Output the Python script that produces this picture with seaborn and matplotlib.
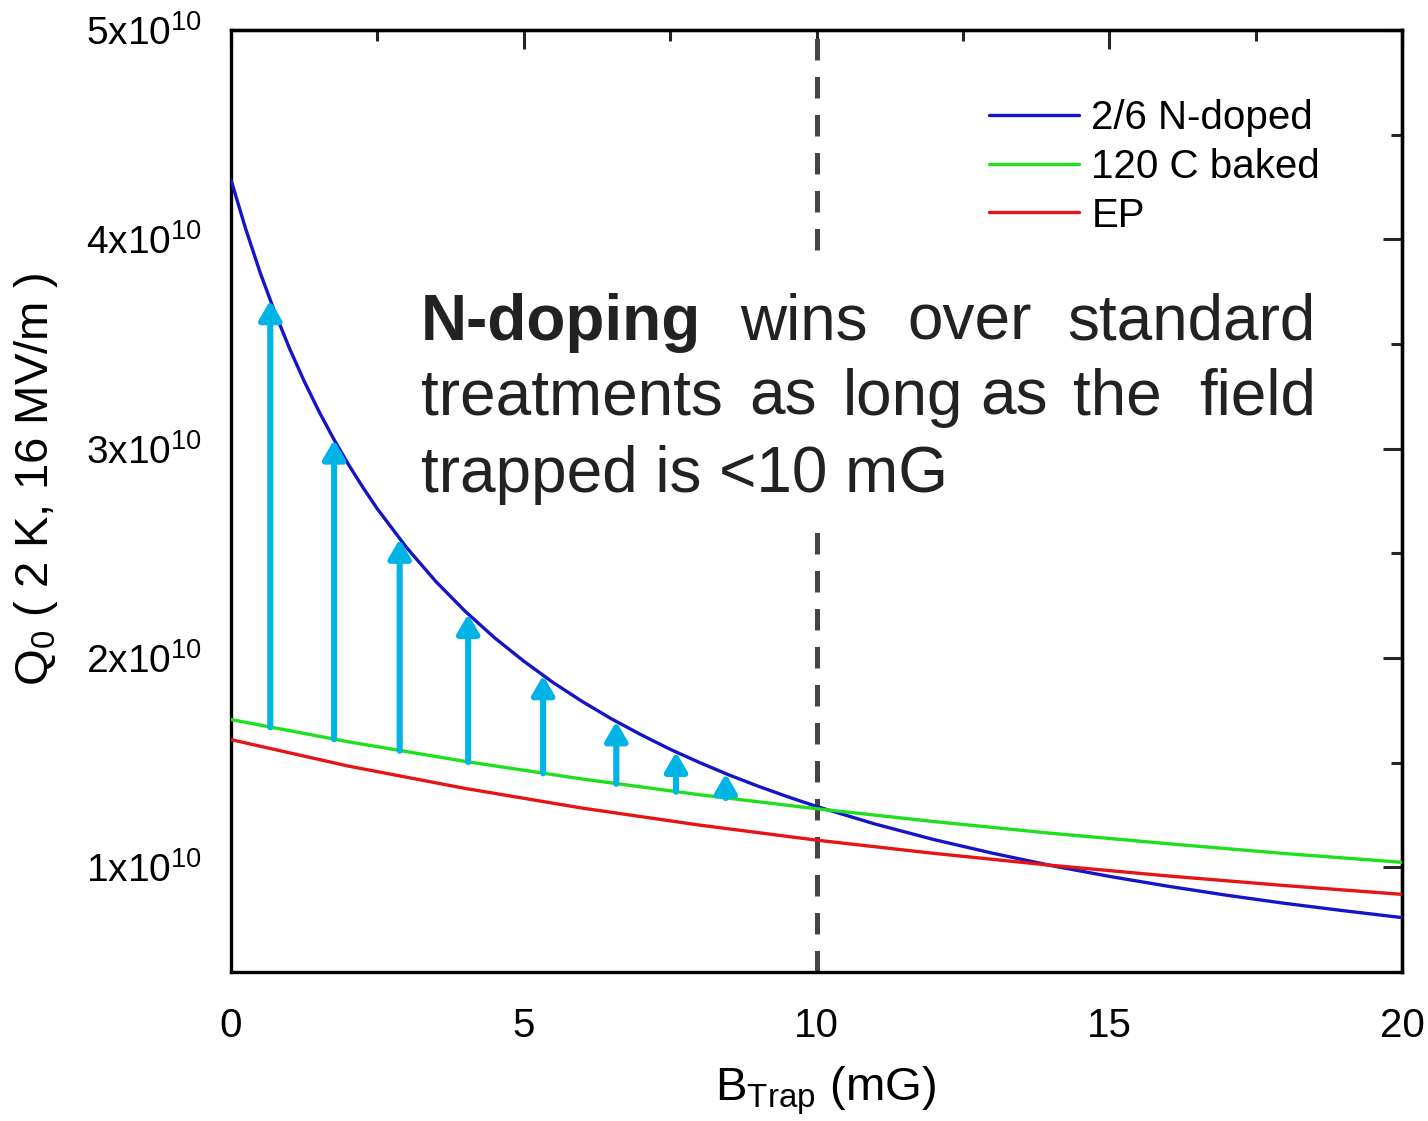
import numpy as np
import pandas as pd
import matplotlib
matplotlib.use("Agg")
import matplotlib.pyplot as plt
import seaborn as sns
from matplotlib.lines import Line2D
from matplotlib.patches import Rectangle
from matplotlib.ticker import MultipleLocator, FixedLocator, FixedFormatter

# Q0 values are in units of 1e10, B_trap in mG
b_ndoped = [0, 0.25, 0.5, 0.75, 1, 1.25, 1.5, 1.75, 2, 2.25, 2.5, 3, 3.5, 4, 4.5,
            5, 5.5, 6, 6.5, 7, 7.5, 8, 8.5, 9, 9.5, 10,
            11, 12, 13, 14, 15, 16, 17, 18, 19, 20]
q_ndoped = [4.284, 4.050, 3.839, 3.650, 3.478, 3.322, 3.179, 3.048, 2.927, 2.816,
            2.712, 2.527, 2.365, 2.223, 2.097,
            1.985, 1.883, 1.792, 1.709, 1.634, 1.564, 1.501, 1.442, 1.388, 1.338, 1.291,
            1.207, 1.133, 1.068, 1.009, 0.957, 0.910, 0.867, 0.828, 0.793, 0.760]

b_std = [0, 2, 4, 6, 8, 10, 12, 14, 16, 18, 20]
q_baked = [1.706, 1.600, 1.506, 1.422, 1.347, 1.280, 1.219, 1.163, 1.113, 1.066, 1.024]
q_ep = [1.610, 1.484, 1.377, 1.283, 1.202, 1.130, 1.067, 1.010, 0.959, 0.913, 0.871]

series_names = ["2/6 N-doped", "120 C baked", "EP"]
series_colors = ["#1414C8", "#1EE01E", "#E61414"]

# gain arrows: from 120 C baked up to N-doped
arrow_b = [0.67, 1.76, 2.88, 4.05, 5.33, 6.58, 7.6, 8.45]
arrow_from = [1.669, 1.612, 1.557, 1.503, 1.449, 1.399, 1.361, 1.331]
arrow_to = [3.709, 3.043, 2.569, 2.210, 1.917, 1.697, 1.551, 1.448]

b_limit = 10

x_ticks = [0, 5, 10, 15, 20]
y_ticks = [1, 2, 3, 4, 5]
y_tick_labels = [r"$\mathregular{1x10^{10}}$", r"$\mathregular{2x10^{10}}$",
                 r"$\mathregular{3x10^{10}}$", r"$\mathregular{4x10^{10}}$",
                 r"$\mathregular{5x10^{10}}$"]

df = pd.concat([
    pd.DataFrame({"B": b_ndoped, "Q": q_ndoped, "series": series_names[0]}),
    pd.DataFrame({"B": b_std, "Q": q_baked, "series": series_names[1]}),
    pd.DataFrame({"B": b_std, "Q": q_ep, "series": series_names[2]}),
])

sns.set_theme(style="white")
plt.rcParams["font.family"] = ["Liberation Sans", "DejaVu Sans"]
plt.rcParams["mathtext.fontset"] = "custom"
plt.rcParams["mathtext.rm"] = "Liberation Sans"
plt.rcParams["mathtext.it"] = "Liberation Sans:italic"
plt.rcParams["mathtext.bf"] = "Liberation Sans:bold"

fig = plt.figure(figsize=(14.28, 11.21), dpi=100)
ax = fig.add_axes([0.1618, 0.1329, 0.82, 0.8403])

sns.lineplot(data=df, x="B", y="Q", hue="series", hue_order=series_names,
             palette=series_colors, linewidth=2.4, legend=False, ax=ax, zorder=4)

# dashed limit line, hidden behind the text block
ax.axvline(b_limit, color="#444444", lw=3.6, dashes=(4.3, 3.3), zorder=2)
ax.add_patch(Rectangle((3.0, 2.67), 15.8, 1.2, facecolor="white",
                       edgecolor="none", zorder=3))

for xb, y0, y1 in zip(arrow_b, arrow_from, arrow_to):
    ax.annotate("", xy=(xb, y1), xytext=(xb, y0),
                arrowprops=dict(arrowstyle="-|>,head_length=0.6,head_width=0.35",
                                color="#00B4E6", lw=4.4, shrinkA=0, shrinkB=0,
                                mutation_scale=19),
                zorder=5)

ax.set_xlim(0, 20)
ax.set_ylim(0.5, 5.0)
ax.xaxis.set_major_locator(FixedLocator(x_ticks))
ax.xaxis.set_minor_locator(MultipleLocator(2.5))
ax.yaxis.set_major_locator(FixedLocator(y_ticks))
ax.yaxis.set_major_formatter(FixedFormatter(y_tick_labels))
ax.yaxis.set_minor_locator(MultipleLocator(0.5))

for s in ax.spines.values():
    s.set_linewidth(2.4)
    s.set_color("black")

ax.tick_params(which="major", direction="out", length=15, width=2.2,
               labelsize=28, colors="black", pad=6)
ax.tick_params(which="minor", direction="out", length=8, width=2.2)
ax.tick_params(axis="x", which="major", pad=10, labelsize=29)

# inward ticks on top and right
top = ax.secondary_xaxis("top")
top.xaxis.set_major_locator(FixedLocator(x_ticks))
top.xaxis.set_minor_locator(MultipleLocator(2.5))
top.tick_params(which="major", direction="in", length=14, width=2.2, labeltop=False)
top.tick_params(which="minor", direction="in", length=8, width=2.2)
top.spines["top"].set_linewidth(2.4)
right = ax.secondary_yaxis("right")
right.yaxis.set_major_locator(FixedLocator(y_ticks))
right.yaxis.set_minor_locator(MultipleLocator(0.5))
right.tick_params(which="major", direction="in", length=14, width=2.2, labelright=False)
right.tick_params(which="minor", direction="in", length=8, width=2.2)
right.spines["right"].set_linewidth(2.4)

ax.set_xlabel(r"$\mathregular{B_{Trap}}$ (mG)", fontsize=34, color="black")
ax.set_ylabel(r"$\mathregular{Q_0}$ ( 2 K, 16 MV/m )", fontsize=34, color="black")
ax.xaxis.set_label_coords(0.508, -0.098)
ax.yaxis.set_label_coords(-0.146, 0.523)

handles = [Line2D([], [], color=c, lw=2.4) for c in series_colors]
ax.legend(handles, series_names, loc="upper left", bbox_to_anchor=(0.647, 0.927),
          frameon=False, fontsize=29, handlelength=2.25, handletextpad=0.3,
          labelspacing=0.27, borderpad=0, borderaxespad=0, labelcolor="black")

# justified annotation text
txt = dict(fontsize=46, color="#222222", va="baseline", zorder=6)
ax.text(3.245, 3.52, "N-doping", ha="left", fontweight="bold", **txt)
ax.text(8.69, 3.52, "wins", ha="left", **txt)
ax.text(11.55, 3.52, "over", ha="left", **txt)
ax.text(18.53, 3.52, "standard", ha="right", **txt)
ax.text(3.245, 3.162, "treatments", ha="left", **txt)
ax.text(8.85, 3.162, "as", ha="left", **txt)
ax.text(10.45, 3.162, "long", ha="left", **txt)
ax.text(12.79, 3.162, "as", ha="left", **txt)
ax.text(14.38, 3.162, "the", ha="left", **txt)
ax.text(18.53, 3.162, "field", ha="right", **txt)
ax.text(3.245, 2.795, "trapped is <10 mG", ha="left", **txt)

fig.savefig("out.png", dpi=100, facecolor="white")
